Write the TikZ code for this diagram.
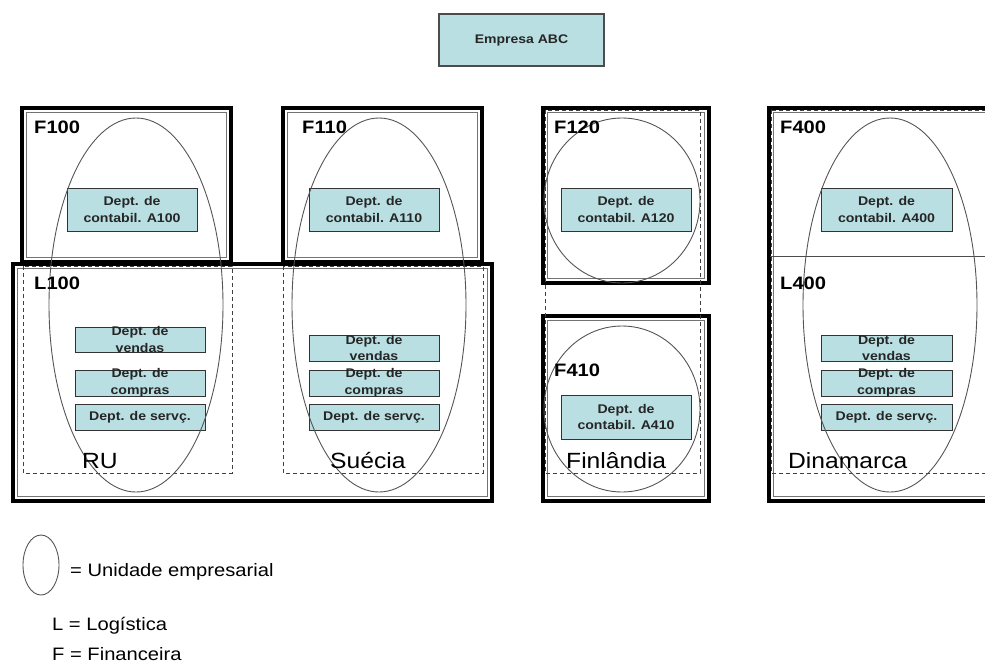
\documentclass[tikz,border=0pt]{standalone}
\usepackage{fontspec}
\setmainfont[FakeStretch=1.12]{Liberation Sans}
\definecolor{deptfill}{RGB}{185,223,226}
\definecolor{ellgray}{RGB}{85,85,85}
\newcommand{\dframe}[4]{%
  \draw[thickfr] ({#1+2},{#2+2}) rectangle ({#3-2},{#4-2});
  \draw[thinfr] ({#1+6.5},{#2+6.5}) rectangle ({#3-6.5},{#4-6.5});}
\begin{document}
\begin{tikzpicture}[x=1pt,y=-1pt,
  deptbox/.style={draw=black!80, line width=0.9pt, fill=deptfill, inner sep=0pt,
    align=center, font=\bfseries\fontsize{12.6}{16.7}\selectfont, text=black!85},
  depttext/.style={align=center, font=\bfseries\fontsize{12.6}{16.7}\selectfont, text=black!85, inner sep=0pt},
  unitell/.style={draw=ellgray, line width=0.9pt},
  dashbox/.style={draw=black!75, dash pattern=on 4pt off 3pt, line width=0.7pt},
  biglabel/.style={font=\bfseries\fontsize{18}{20}\selectfont, anchor=base west, inner sep=0pt},
  country/.style={font=\fontsize{22}{24}\selectfont, anchor=base west, inner sep=0pt},
  legendtext/.style={font=\fontsize{18}{20}\selectfont, anchor=base west, inner sep=0pt},
  thickfr/.style={line width=4pt, draw=black},
  thinfr/.style={line width=0.8pt, draw=black!55}]
\useasboundingbox (0,0) rectangle (985,664);

% top node
\node[deptbox, draw=black!70, line width=1.2pt, minimum width=165pt, minimum height=52pt,
  font=\bfseries\fontsize{12.5}{15}\selectfont] (abc) at (521.5,40) {Empresa ABC};

% frames
\dframe{20}{106}{233}{264}
\dframe{281}{106}{484}{264}
\dframe{11}{262}{494}{503}
\dframe{541}{106}{711}{285}
\dframe{541}{314}{711}{503}
\dframe{767}{106}{1000}{503}
\draw[thinfr, draw=black!70] (770,256) -- (990,256);

% dashed areas
\draw[dashbox] (23,266) rectangle (232,473);
\draw[dashbox] (283,266) rectangle (483,473);
\draw[dashbox] (545,110) rectangle (700,473);
\draw[dashbox] (771,110) rectangle (995,473);

% accounting departments
\node[deptbox, minimum width=130pt, minimum height=43pt] (a100) at (132,209.5) {Dept. de\\contabil. A100};
\node[deptbox, minimum width=130pt, minimum height=43pt] (a110) at (374,209.5) {Dept. de\\contabil. A110};
\node[deptbox, minimum width=130pt, minimum height=43pt] (a120) at (626,209.5) {Dept. de\\contabil. A120};
\node[deptbox, minimum width=130pt, minimum height=44pt] (a410) at (626,417) {Dept. de\\contabil. A410};
\node[deptbox, minimum width=131pt, minimum height=43pt] (a400) at (886.5,209.5) {Dept. de\\contabil. A400};

% RU logistics
\node[deptbox, minimum width=130pt, minimum height=25pt] (ruv) at (140,339.5) {};
\node[depttext] (ruvt) at (ruv) {Dept. de\\vendas};
\node[deptbox, minimum width=130pt, minimum height=26pt] (ruc) at (140,383) {};
\node[depttext] (ruct) at (ruc) {Dept. de\\compras};
\node[deptbox, minimum width=130pt, minimum height=26pt] (rus) at (140,417) {Dept. de servç.};

% Suecia logistics
\node[deptbox, minimum width=130pt, minimum height=26pt] (sev) at (374,348) {};
\node[depttext] (sevt) at (sev) {Dept. de\\vendas};
\node[deptbox, minimum width=130pt, minimum height=26pt] (sec) at (374,383) {};
\node[depttext] (sect) at (sec) {Dept. de\\compras};
\node[deptbox, minimum width=130pt, minimum height=26pt] (ses) at (374,417) {Dept. de servç.};

% Dinamarca logistics
\node[deptbox, minimum width=131pt, minimum height=26pt] (dkv) at (886.5,348) {};
\node[depttext] (dkvt) at (dkv) {Dept. de\\vendas};
\node[deptbox, minimum width=131pt, minimum height=26pt] (dkc) at (886.5,383) {};
\node[depttext] (dkct) at (dkc) {Dept. de\\compras};
\node[deptbox, minimum width=131pt, minimum height=26pt] (dks) at (886.5,417) {Dept. de servç.};

% business units
\draw[unitell] (136,305) ellipse [x radius=87, y radius=187];
\draw[unitell] (379,305) ellipse [x radius=87, y radius=187];
\draw[unitell] (622,200.5) ellipse [x radius=78, y radius=82.5];
\draw[unitell] (622,409) ellipse [x radius=78, y radius=83];
\draw[unitell] (890,305) ellipse [x radius=87, y radius=187];

% labels
\node[biglabel] (lf100) at (34,133) {F100};
\node[biglabel] (lf110) at (302,133) {F110};
\node[biglabel] (lf120) at (554,133) {F120};
\node[biglabel] (lf410) at (554,376) {F410};
\node[biglabel] (lf400) at (780,133) {F400};
\node[biglabel] (ll100) at (34,289) {L100};
\node[biglabel] (ll400) at (780,289) {L400};

\node[country] (cru) at (82,468) {RU};
\node[country] (cse) at (330,468) {Suécia};
\node[country] (cfi) at (566,468) {Finlândia};
\node[country] (cdk) at (788,468) {Dinamarca};

% legend
\draw[unitell] (41,565) ellipse [x radius=18, y radius=30];
\node[legendtext] (leg1) at (70,576) {= Unidade empresarial};
\node[legendtext] (leg2) at (52,630) {L = Logística};
\node[legendtext] (leg3) at (52,660) {F = Financeira};
\end{tikzpicture}
\end{document}
